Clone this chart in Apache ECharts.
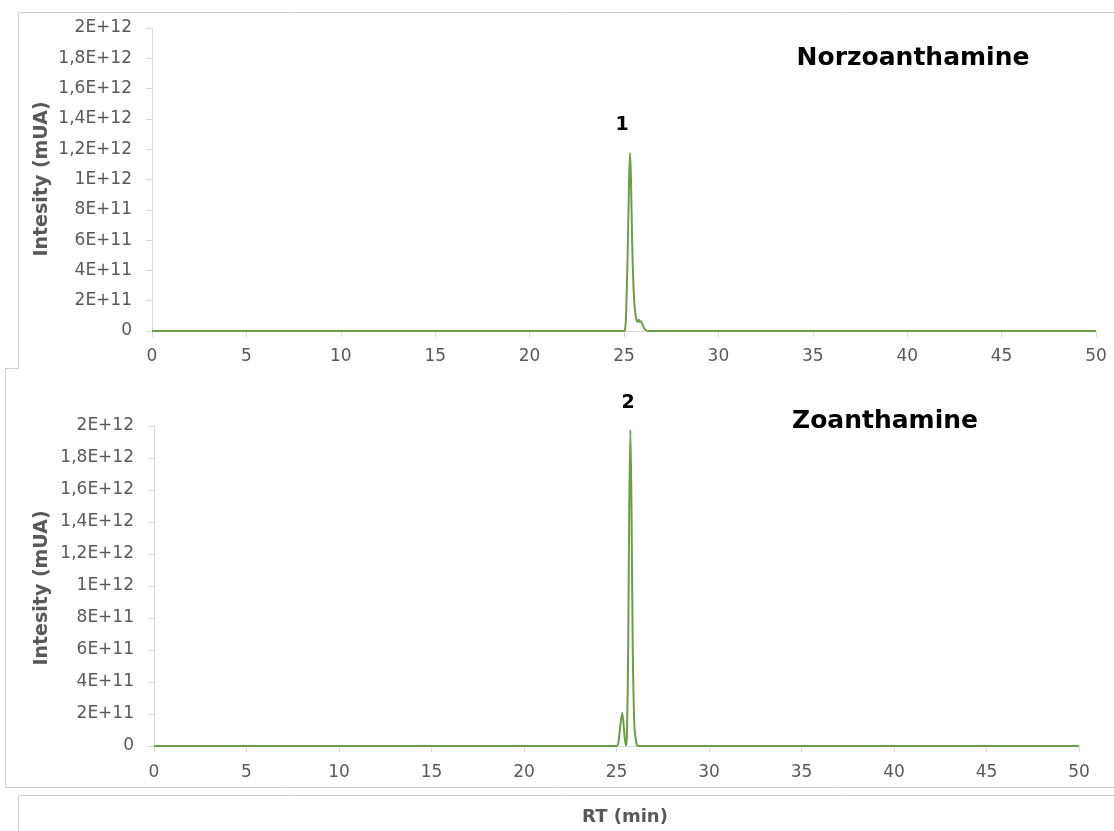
<!DOCTYPE html>
<html><head><meta charset="utf-8">
<script src="https://cdn.jsdelivr.net/npm/echarts@6/dist/echarts.min.js"></script>
<style>html,body{margin:0;padding:0;background:#fff}#c{width:1114px;height:831px}</style>
</head><body><div id="c"></div>
<script>
// Norzoanthamine chromatogram: [RT (min), intensity]
const norzoRT  = [0, 24.9, 25.05, 25.12, 25.2, 25.27, 25.32, 25.37, 25.43, 25.5, 25.57, 25.65, 25.72, 25.78, 25.84, 25.9, 26.0, 26.1, 26.2, 26.3, 50];
const norzoVal = [0, 0, 0.005e12, 0.15e12, 0.55e12, 1.0e12, 1.175e12, 1.0e12, 0.6e12, 0.3e12, 0.15e12, 0.08e12, 0.06e12, 0.075e12, 0.06e12, 0.065e12, 0.035e12, 0.012e12, 0.002e12, 0, 0];
// Zoanthamine chromatogram
const zoaRT  = [0, 24.95, 25.08, 25.18, 25.31, 25.42, 25.5, 25.56, 25.63, 25.69, 25.75, 25.81, 25.88, 25.97, 26.08, 26.18, 50];
const zoaVal = [0, 0, 0.01e12, 0.1e12, 0.208e12, 0.08e12, 0.005e12, 0.05e12, 0.6e12, 1.5e12, 1.975e12, 1.5e12, 0.6e12, 0.12e12, 0.015e12, 0, 0];
const yTickLabels = ['0','2E+11','4E+11','6E+11','8E+11','1E+12','1,2E+12','1,4E+12','1,6E+12','1,8E+12','2E+12'];
const titles = ['Norzoanthamine', 'Zoanthamine'];
const peakLabels = ['1', '2'];

const chart = echarts.init(document.getElementById('c'));
const font = 'DejaVu Sans, sans-serif';
const gray = '#595959';
const lineC = '#d9d9d9';
const green = '#6b9e45';

function xAxis(i, m){ return {type:'value', gridIndex:i, min:0, max:50, interval:5,
  axisLine:{show:true, lineStyle:{color:lineC}}, axisTick:{show:true, length:6, lineStyle:{color:lineC}},
  axisLabel:{color:gray, fontSize:17, fontFamily:font, margin:m}, splitLine:{show:false}}; }
function yAxis(i){ return {type:'value', gridIndex:i, min:0, max:2e12, interval:2e11,
  axisLine:{show:true, lineStyle:{color:lineC}}, axisTick:{show:true, length:6, lineStyle:{color:lineC}},
  axisLabel:{color:gray, fontSize:17, fontFamily:font, margin:20, formatter:(v)=>yTickLabels[Math.round(v/2e11)]},
  splitLine:{show:false}}; }

const pair = (xs, ys) => xs.map((x,k)=>[x, ys[k]]);

chart.setOption({
  animation:false,
  grid:[
    {left:152, right:18, top:28, bottom:500},
    {left:154, right:35, top:426, bottom:85}
  ],
  xAxis:[xAxis(0, 17), xAxis(1, 18)],
  yAxis:[yAxis(0), yAxis(1)],
  series:[
    {type:'line', xAxisIndex:0, yAxisIndex:0, data:pair(norzoRT, norzoVal), showSymbol:false, smooth:0.3,
      lineStyle:{color:green, width:2}},
    {type:'line', xAxisIndex:1, yAxisIndex:1, data:pair(zoaRT, zoaVal), showSymbol:false, smooth:0.3,
      lineStyle:{color:green, width:2}}
  ],
  graphic:[
    {type:'polyline', shape:{points:[[1114,12.5],[18.5,12.5],[18.5,368.5],[5.5,368.5],[5.5,787.5],[1114,787.5]]}, style:{stroke:'#d0d0d0', fill:null, lineWidth:1}},
    {type:'polyline', shape:{points:[[1114,795.5],[18.5,795.5],[18.5,831]]}, style:{stroke:'#d0d0d0', fill:null, lineWidth:1}},
    {type:'text', x:913, y:58, style:{text:titles[0], font:'bold 25px '+font, fill:'#000', align:'center', verticalAlign:'middle'}},
    {type:'text', x:885, y:421, style:{text:titles[1], font:'bold 25px '+font, fill:'#000', align:'center', verticalAlign:'middle'}},
    {type:'rect', shape:{x:700, y:395, width:360, height:13}, style:{fill:'#fff'}},
    {type:'text', x:622, y:125, style:{text:peakLabels[0], font:'bold 19px '+font, fill:'#000', align:'center', verticalAlign:'middle'}},
    {type:'text', x:628, y:403, style:{text:peakLabels[1], font:'bold 19px '+font, fill:'#000', align:'center', verticalAlign:'middle'}},
    {type:'text', x:42, y:179, rotation:Math.PI/2, style:{text:'Intesity (mUA)', font:'bold 19px '+font, fill:gray, align:'center', verticalAlign:'middle'}},
    {type:'text', x:42, y:588, rotation:Math.PI/2, style:{text:'Intesity (mUA)', font:'bold 19px '+font, fill:gray, align:'center', verticalAlign:'middle'}},
    {type:'text', x:625, y:817, style:{text:'RT (min)', font:'bold 18px '+font, fill:gray, align:'center', verticalAlign:'middle'}}
  ]
});
</script></body></html>
